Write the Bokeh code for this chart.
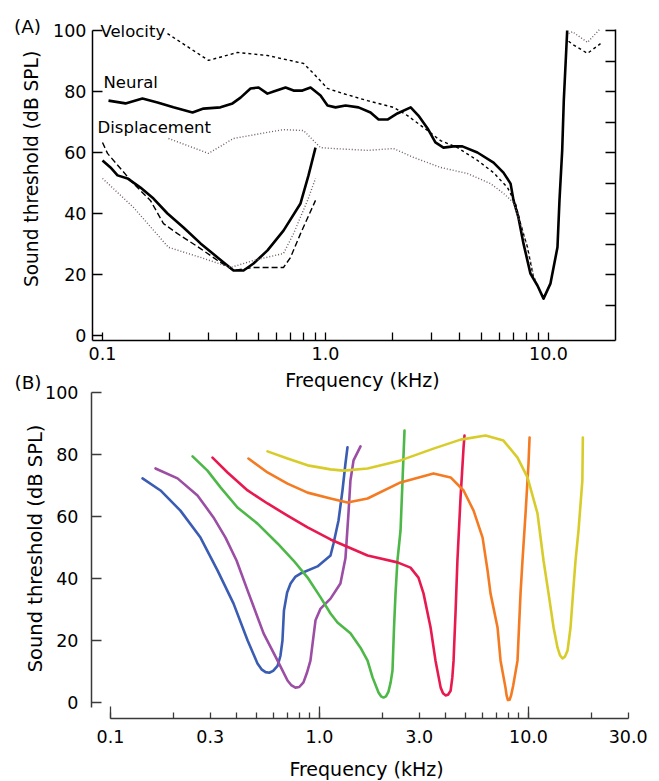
import math
from bokeh.plotting import figure
from bokeh.models import (LinearAxis, LogAxis, FixedTicker, CustomJSTickFormatter, Label, Range1d,
                          LogScale, LinearScale)
from bokeh.embed import file_html
from bokeh.resources import INLINE

FONT = "DejaVu Sans"

# ---------------- Panel A data (kHz, dB SPL) ----------------
neural_hi_x = [0.1064, 0.1268, 0.151, 0.1765, 0.208, 0.2533, 0.2838, 0.338, 0.383, 0.416, 0.461, 0.501,
               0.549, 0.585, 0.662, 0.719, 0.788, 0.857, 0.950, 1.021, 1.109, 1.23, 1.406, 1.592, 1.73,
               1.897, 2.10, 2.41, 2.61, 2.87, 3.11, 3.38, 3.75, 4.11, 4.80, 5.67, 6.28, 6.76, 6.97, 7.33,
               7.72, 8.30, 8.92, 9.50, 10.2, 10.97, 11.2, 11.52, 11.71, 12.13]
neural_hi_y = [77.0, 76.1, 77.7, 76.4, 74.8, 73.1, 74.4, 74.8, 76.1, 78.0, 81.0, 81.3,
               79.3, 80.0, 81.3, 80.3, 80.3, 81.3, 78.7, 75.4, 74.8, 75.4, 74.8, 73.1, 70.8,
               70.8, 72.8, 74.8, 72.1, 67.9, 63.3, 61.6, 62.0, 62.0, 60.0, 56.7, 53.4, 49.8, 44.3, 38.7,
               30.2, 20.3, 16.4, 12.1, 17.0, 28.9, 44.3, 60.7, 77.0, 100.0]

velocity_hi_x = [0.1956, 0.2988, 0.403, 0.5495, 0.797, 0.884, 1.021, 1.204, 1.543, 2.018, 2.332, 2.867,
                 3.28, 3.908, 4.804, 5.668, 6.549, 7.113, 7.49, 8.05, 8.565, 8.745]
velocity_hi_y = [99.0, 90.2, 92.8, 91.8, 89.2, 85.9, 81.0, 79.3, 77.0, 74.8, 72.1, 67.2,
                 63.9, 61.6, 57.4, 53.4, 48.5, 43.3, 36.7, 28.9, 19.0, 18.4]

displ_hi_x = [0.1977, 0.2988, 0.3868, 0.5495, 0.648, 0.797, 0.950, 1.086, 1.543, 2.018, 2.481, 3.28,
              4.334, 5.495, 6.284, 6.967, 7.49, 8.05, 8.565]
displ_hi_y = [64.6, 59.7, 64.6, 66.6, 67.5, 67.2, 61.6, 61.3, 60.7, 61.3, 58.4, 55.1,
              53.1, 49.8, 46.6, 43.6, 36.7, 28.9, 19.7]

neural_lo_x = [0.100, 0.1086, 0.1168, 0.1295, 0.148, 0.1693, 0.1956, 0.2308, 0.2751, 0.328, 0.3868,
               0.429, 0.4755, 0.5495, 0.648, 0.7726, 0.839, 0.902]
neural_lo_y = [57.4, 55.1, 52.5, 51.5, 48.5, 44.9, 40.0, 35.4, 30.2, 25.6, 21.3,
               21.3, 23.6, 27.9, 34.4, 43.3, 52.5, 61.6]

velocity_lo_x = [0.100, 0.1053, 0.1377, 0.164, 0.1877, 0.217, 0.2751, 0.328, 0.3868, 0.4755, 0.648,
                 0.697, 0.7726, 0.902]
velocity_lo_y = [63.3, 59.7, 49.8, 44.3, 36.7, 33.4, 28.5, 24.6, 21.3, 22.3, 22.3,
                 25.6, 33.4, 44.3]

displ_lo_x = [0.100, 0.1377, 0.1977, 0.2751, 0.375, 0.4755, 0.648, 0.719, 0.831, 0.902]
displ_lo_y = [51.5, 42.0, 28.9, 25.6, 22.3, 24.6, 26.9, 33.4, 44.3, 51.5]

displ_top_x = [12.3, 12.8, 14.96, 17.11]
displ_top_y = [99.0, 99.6, 96.1, 100.7]
velocity_top_x = [12.3, 12.8, 14.96, 17.11]
velocity_top_y = [96.5, 95.5, 92.5, 95.7]

# ---------------- Panel B data ----------------
blue_x = [0.1423, 0.1735, 0.216, 0.2695, 0.325, 0.388, 0.453, 0.505, 0.530, 0.552, 0.575, 0.600, 0.630,
          0.650, 0.665, 0.676, 0.700, 0.727, 0.765, 0.811, 0.978, 1.129, 1.167, 1.233, 1.288, 1.331, 1.361]
blue_y = [72.3, 68.4, 61.9, 53.2, 42.6, 31.9, 20.0, 12.6, 10.6, 9.8, 9.6, 10.2, 11.8,
          15.0, 20.0, 29.7, 35.5, 38.4, 40.5, 41.6, 43.9, 47.4, 51.3, 58.7, 68.4, 77.1, 82.3]

purple_x = [0.1642, 0.2093, 0.2608, 0.311, 0.355, 0.401, 0.453, 0.540, 0.630, 0.703, 0.735, 0.767, 0.800,
            0.838, 0.870, 0.905, 0.957, 1.012, 1.129, 1.259, 1.331, 1.376, 1.406, 1.455, 1.571]
purple_y = [75.5, 72.3, 66.8, 59.7, 53.2, 45.8, 36.1, 22.3, 13.5, 7.1, 5.5, 4.8, 5.0,
            6.5, 9.5, 13.5, 26.5, 30.3, 33.5, 38.4, 46.5, 61.0, 71.6, 78.1, 82.6]

green_x = [0.247, 0.291, 0.336, 0.405, 0.505, 0.630, 0.751, 0.877, 1.012, 1.129, 1.219, 1.406, 1.571,
           1.698, 1.794, 1.916, 1.970, 2.024, 2.080, 2.138, 2.190, 2.235, 2.273, 2.311, 2.36, 2.442,
           2.496, 2.551]
green_y = [79.4, 74.8, 69.4, 62.9, 57.7, 51.3, 45.8, 40.3, 33.9, 28.7, 25.8, 22.3, 17.7,
           13.5, 8.1, 3.2, 2.0, 1.6, 2.0, 3.5, 6.5, 10.3, 24.2, 35.2, 45.8, 55.5, 71.6, 87.7]

crimson_x = [0.3076, 0.363, 0.453, 0.564, 0.703, 0.877, 1.129, 1.698, 2.36, 2.725, 2.975, 3.145, 3.40,
             3.59, 3.80, 3.90, 4.01, 4.12, 4.24, 4.32, 4.38, 4.48, 4.57, 4.73, 4.89, 4.94]
crimson_y = [79.0, 74.2, 68.4, 64.2, 60.3, 56.5, 52.6, 47.4, 45.2, 43.5, 40.3, 35.2, 24.2,
             13.5, 4.8, 3.0, 2.3, 2.5, 3.8, 8.0, 13.5, 29.7, 45.8, 66.1, 82.3, 86.1]

orange_x = [0.457, 0.564, 0.703, 0.877, 1.129, 1.361, 1.698, 2.442, 3.51, 4.24, 4.89, 5.46, 6.03, 6.37,
            6.58, 7.11, 7.35, 7.76, 7.86, 7.97, 8.12, 8.25, 8.45, 8.86, 9.16, 9.36, 9.68, 10.0, 10.12]
orange_y = [78.7, 74.2, 70.6, 67.7, 65.8, 64.5, 65.8, 71.0, 73.9, 72.6, 68.4, 61.9, 53.2, 42.6,
            35.2, 24.2, 13.5, 4.8, 2.2, 0.8, 0.9, 2.2, 5.5, 13.5, 35.2, 45.8, 61.0, 77.1, 85.5]

yellow_x = [0.564, 0.703, 0.877, 1.129, 1.303, 1.698, 2.442, 3.51, 4.73, 6.23, 7.59, 8.86, 9.89, 11.04,
            11.80, 12.47, 13.18, 13.77, 14.15, 14.55, 14.95, 15.38, 15.89, 16.41, 16.79, 17.35, 18.1, 18.2]
yellow_y = [81.0, 78.7, 76.5, 75.2, 74.8, 75.5, 78.1, 81.9, 84.8, 86.1, 84.5, 79.0, 72.6, 61.0,
            45.8, 35.2, 24.2, 17.7, 15.2, 14.2, 14.8, 16.8, 24.2, 37.1, 45.8, 55.5, 71.6, 85.5]

curves_B = [(blue_x, blue_y, "#3a5cb2"), (purple_x, purple_y, "#9b4ea4"), (green_x, green_y, "#4db848"),
            (crimson_x, crimson_y, "#e8194f"), (orange_x, orange_y, "#f47b22"), (yellow_x, yellow_y, "#d8cc2a")]

# ---------------- ticks ----------------
A_major = [0.1, 1, 10]
A_minor = [0.2, 0.3, 0.4, 0.5, 0.6, 0.7, 0.8, 0.9, 2, 3, 4, 5, 6, 7, 8, 9]
B_major = [0.1, 0.3, 1, 3, 10, 30]
B_decades = [0.1, 1, 10]
B_minor = [0.2, 0.4, 0.5, 0.6, 0.7, 0.8, 0.9, 2, 4, 5, 6, 7, 8, 9, 20]
y_ticks = [0, 20, 40, 60, 80, 100]
A_right_ticks = [10, 20, 30, 40, 50, 60, 70, 80, 90, 100]

# ---------------- geometry (one canvas, two panels) ----------------
W, H = 659, 781
# panel A: 0.1 kHz at x=102 px, 223 px per decade; 0 dB at y=335 px, 3.05 px per dB
# panel B: 0.1 kHz at x=110 px, 209 px per decade; 0 dB at y=702 px, 3.10 px per dB
A_x0, A_dec, A_y0, A_k = 102, 223, 335, 3.05
B_x0, B_dec, B_y0, B_k = 110, 209, 702, 3.10
A_xr = Range1d(10 ** (-1 - A_x0 / A_dec), 10 ** (-1 + (W - A_x0) / A_dec))
A_yr = Range1d((A_y0 - H) / A_k, A_y0 / A_k)
B_xr = Range1d(10 ** (-1 - B_x0 / B_dec), 10 ** (-1 + (W - B_x0) / B_dec))
B_yr = Range1d((B_y0 - H) / B_k, B_y0 / B_k)

A_left, A_right, A_bottom = 0.09019, 19.97, -1.64     # axis positions in panel-A data units
B_left, B_bottom = 0.0811, -5.16                        # axis positions in panel-B data units

p = figure(width=W, height=H, x_axis_type="log", x_range=A_xr, y_range=A_yr,
           x_axis_location=None, y_axis_location=None, title=None,
           output_backend="svg", toolbar_location=None,
           min_border_left=0, min_border_right=0, min_border_top=0, min_border_bottom=0)
p.extra_x_ranges = {"B": B_xr}
p.extra_y_ranges = {"B": B_yr}
p.extra_x_scales = {"B": LogScale()}
p.extra_y_scales = {"B": LinearScale()}
p.grid.visible = False
p.outline_line_color = None
p.background_fill_color = "white"
p.border_fill_color = "white"

fmt = CustomJSTickFormatter(code="return tick.toFixed(1)")
blank = CustomJSTickFormatter(code="return ''")
TICK_FS = "17.5px"


def style_labels(ax, standoff):
    ax.major_label_standoff = standoff
    ax.major_label_text_font = FONT
    ax.major_label_text_font_size = TICK_FS
    ax.major_label_text_color = "black"


# ----- Panel A axes -----
xa = LogAxis(fixed_location=A_bottom, bounds=(A_left, A_right),
             ticker=FixedTicker(ticks=A_major, minor_ticks=A_minor), formatter=fmt,
             major_tick_in=8, major_tick_out=0, minor_tick_in=8, minor_tick_out=0,
             axis_line_width=1.5, major_tick_line_width=1.3, minor_tick_line_width=1.3)
style_labels(xa, 6)
p.add_layout(xa, "below")

ya = LinearAxis(fixed_location=A_left, bounds=(A_bottom, 100),
                ticker=FixedTicker(ticks=y_ticks),
                major_tick_in=10, major_tick_out=0, minor_tick_in=0, minor_tick_out=0,
                axis_line_width=1.5, major_tick_line_width=1.3)
style_labels(ya, 6)
p.add_layout(ya, "left")

ra = LinearAxis(fixed_location=A_right, bounds=(A_bottom, 100.3),
                ticker=FixedTicker(ticks=A_right_ticks), formatter=blank,
                major_tick_in=10, major_tick_out=0, minor_tick_in=0, minor_tick_out=0,
                axis_line_width=1.5, major_tick_line_width=1.3)
p.add_layout(ra, "right")

# ----- Panel B axes -----
AX_B = "#3a3a3a"
xb = LogAxis(x_range_name="B", y_range_name="B", fixed_location=B_bottom, bounds=(0.1, 30),
             ticker=FixedTicker(ticks=B_major, minor_ticks=B_minor), formatter=fmt,
             major_tick_in=6, major_tick_out=0, minor_tick_in=6, minor_tick_out=0,
             axis_line_color=AX_B, major_tick_line_color=AX_B, minor_tick_line_color=AX_B,
             axis_line_width=1.5, major_tick_line_width=1.3, minor_tick_line_width=1.3)
style_labels(xb, 12)
p.add_layout(xb, "below")

xb_dec = LogAxis(x_range_name="B", y_range_name="B", fixed_location=B_bottom, bounds=(0.1, 30),
                 ticker=FixedTicker(ticks=B_decades), formatter=blank,
                 major_tick_in=12, major_tick_out=0, minor_tick_in=0, minor_tick_out=0,
                 axis_line_color=None, major_tick_line_color=AX_B, major_tick_line_width=1.3)
p.add_layout(xb_dec, "below")

yb = LinearAxis(x_range_name="B", y_range_name="B", fixed_location=B_left, bounds=(-1.6, 100),
                ticker=FixedTicker(ticks=y_ticks),
                major_tick_in=10, major_tick_out=0, minor_tick_in=0, minor_tick_out=0,
                axis_line_color=AX_B, major_tick_line_color=AX_B,
                axis_line_width=1.5, major_tick_line_width=1.3)
style_labels(yb, 13)
p.add_layout(yb, "left")

# ----- Panel A curves -----
DOT = "#6f5c5c"
p.line(neural_hi_x, neural_hi_y, line_color="black", line_width=2.6, line_join="round")
p.line(neural_lo_x, neural_lo_y, line_color="black", line_width=2.6, line_join="round")
p.line(velocity_hi_x, velocity_hi_y, line_color="black", line_width=1.4, line_dash="3 3")
p.line(velocity_lo_x, velocity_lo_y, line_color="black", line_width=1.4, line_dash="6 3")
p.line(velocity_top_x, velocity_top_y, line_color="black", line_width=1.4, line_dash="3 3")
p.line(displ_hi_x, displ_hi_y, line_color=DOT, line_width=1.4, line_dash="1 2")
p.line(displ_lo_x, displ_lo_y, line_color=DOT, line_width=1.4, line_dash="1 2")
p.line(displ_top_x, displ_top_y, line_color=DOT, line_width=1.4, line_dash="1 2")

# ----- Panel B curves -----
for xs, ys, c in curves_B:
    p.line(xs, ys, line_color=c, line_width=2.6, line_join="round", line_cap="round",
           x_range_name="B", y_range_name="B")


def text(x, y, s, size, align="center", angle=0.0, rng=None):
    kw = dict(x_range_name="B", y_range_name="B") if rng == "B" else {}
    p.add_layout(Label(x=x, y=y, text=s, text_font=FONT, text_font_size=size, text_align=align,
                       text_baseline="alphabetic", text_color="black", angle=angle, **kw))


# curve names in panel A
text(0.0979, 99.8, "Velocity", "16.5px", align="left")
text(0.1010, 82.85, "Neural", "16.5px", align="left")
text(0.0950, 68.1, "Displacement", "16.5px", align="left")
# panel letters
text(0.0461, 101.3, "(A)", "18.5px")
text(0.0403, 103.2, "(B)", "18.5px", rng="B")
# axis titles
text(0.04804, 54.6, "Sound threshold (dB SPL)", "18.6px", angle=math.pi / 2)
text(1.465, -14.43, "Frequency (kHz)", "19px")
text(0.04365, 49.7, "Sound threshold (dB SPL)", "19.5px", angle=math.pi / 2, rng="B")
text(1.679, -21.3, "Frequency (kHz)", "19px", rng="B")

open("out.html", "w").write(file_html(p, INLINE))
